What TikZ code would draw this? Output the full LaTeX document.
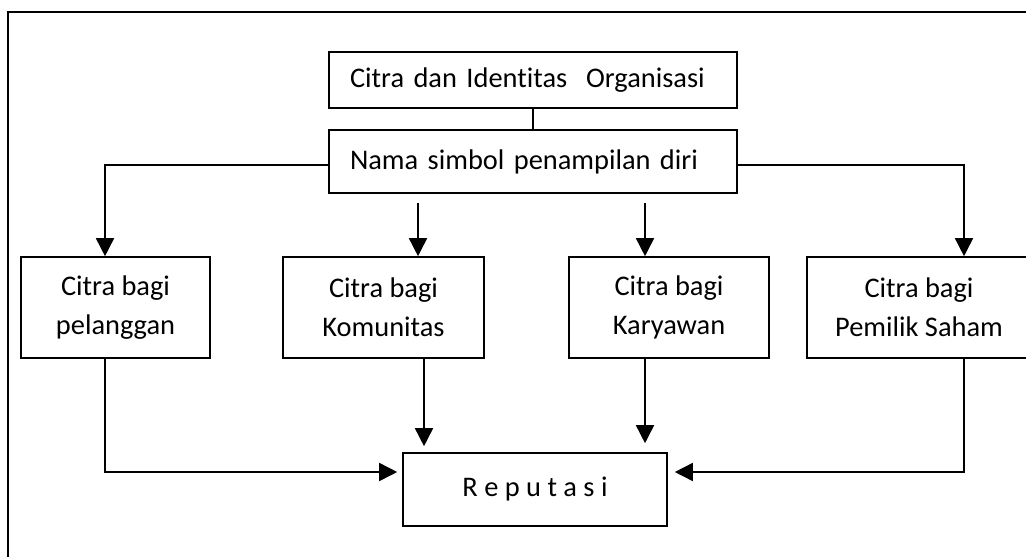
\documentclass[tikz,border=0pt]{standalone}
\usepackage{fontspec}
\setmainfont{Carlito}[Ligatures=NoCommon]
\usetikzlibrary{arrows.meta}
\begin{document}
\begin{tikzpicture}[x=0.5pt, y=-0.5pt, line width=0.8pt,
                    font=\fontsize{14.2}{19.5}\selectfont,
                    box/.style={draw, rectangle, inner sep=0pt, align=center},
                    wide/.style={box, text width=183pt, inner xsep=10.5pt, align=left, minimum height=28pt},
                    arr/.style={-{Triangle[length=9pt, width=9pt]}}]
\useasboundingbox (0,0) rectangle (1026,556);
\clip (0,0) rectangle (1026,556);
\draw (8,12) rectangle (1040,570); % frame
\node[wide] (org) at (533,80) {Citra dan Identitas\ \ Organisasi};
\node[wide, minimum height=31.5pt] (nama) at (533,161.5) {Nama simbol penampilan diri};
\node[box, minimum width=94.5pt, minimum height=50.5pt] (pel) at (115.5,307.5) {Citra bagi\\pelanggan};
\node[box, minimum width=100.5pt, minimum height=50.5pt] (kom) at (383.5,307.5) {Citra bagi\\Komunitas};
\node[box, minimum width=100pt, minimum height=50.5pt] (kar) at (669,307.5) {Citra bagi\\Karyawan};
\node[box, minimum width=112pt, minimum height=50.5pt] (saham) at (919,307.5) {Citra bagi\\Pemilik Saham};
\node[box, minimum width=132pt, minimum height=36.5pt] (rep) at (535,489.5) {\raisebox{2pt}{R e p u t a s i}};
\coordinate (c1) at (105,165);
\coordinate (c2) at (418,203);
\coordinate (c3) at (645,203);
\coordinate (c4) at (964,165);
\coordinate (c5) at (424,472);
\draw (org) -- (nama);
\draw[arr] (nama.west |- c1) -| (c1 |- pel.north);
\draw[arr] (nama.east |- c4) -| (c4 |- saham.north);
\draw[arr] (c2) -- (c2 |- kom.north);
\draw[arr] (c3) -- (c3 |- kar.north);
\draw[arr, shorten >=3pt] (c5 |- kom.south) -- (c5 |- rep.north);
\draw[arr, shorten >=4.5pt] (c3 |- kar.south) -- (c3 |- rep.north);
\draw[arr, shorten >=2.5pt] (c1 |- pel.south) |- (c5 -| rep.west);
\draw[arr, shorten >=3.5pt] (c4 |- saham.south) |- (c5 -| rep.east);
\end{tikzpicture}
\end{document}
